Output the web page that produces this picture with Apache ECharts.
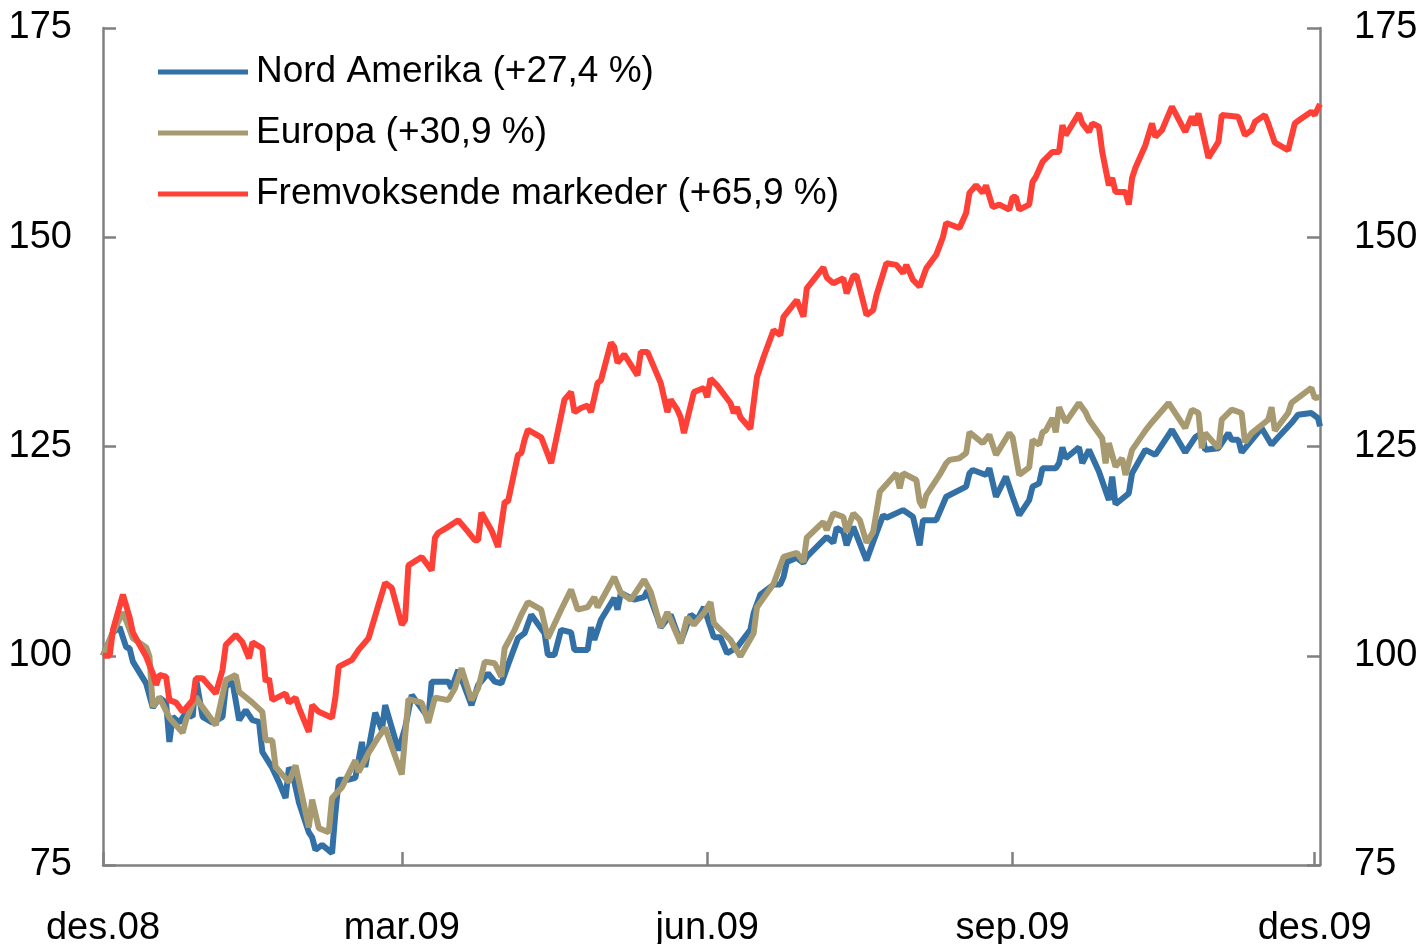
<!DOCTYPE html>
<html>
<head>
<meta charset="utf-8">
<script src="https://cdn.jsdelivr.net/npm/echarts@6/dist/echarts.min.js"></script>
<style>
  html, body { margin: 0; padding: 0; background: #fff; }
  #chart { width: 1420px; height: 944px; }
</style>
</head>
<body>
<div id="chart"></div>
<script>
// days since 1 Dec 2008, index = 100 at start
const tickDays = [0, 90, 182, 274, 365]
const tickLabels = ['des.08', 'mar.09', 'jun.09', 'sep.09', 'des.09']

const seriesNames = ['Nord Amerika (+27,4 %)', 'Europa (+30,9 %)', 'Fremvoksende markeder (+65,9 %)']

const naDays = [0,3,5,7,8,9,13,15,17,19,20,21,23,25,27,28,30,33,36,37,39,41,43,45,47,48,51,53,55,56,57,59,62,63,64,66,69,70,71,74,76,78,79,82,84,85,89,91,93,98,99,104,105,107,111,113,116,118,120,122,125,127,129,133,134,136,138,141,142,146,147,148,150,154,155,156,160,163,164,167,168,171,174,177,179,181,182,184,186,188,191,195,196,198,202,204,205,206,209,211,212,218,220,221,223,224,226,230,232,235,236,241,244,246,247,251,254,260,261,262,266,267,269,272,274,276,279,280,282,283,287,288,289,290,294,295,297,300,303,304,305,309,310,314,317,322,326,329,331,332,336,339,340,342,343,349,352,354,358,360,364,366,366.6]
const naVals = [100,102.8,103.4,101,100.9,99.3,96.7,93.8,95,94.4,89.7,92.7,92,93.2,92.7,97.3,92.7,92,92.7,96.3,96.9,92.3,93.5,92.3,92.1,88.5,86.6,84.9,83,86.6,86.1,82.5,78.9,78.3,76.8,77.4,76.4,81.2,85.2,85.2,85.4,89.7,86.7,93.2,91.1,94.1,88.7,91.4,95.3,92.6,96.9,96.9,96.1,98.3,94.1,96.5,97.9,96.9,96.7,98.9,102.1,102.7,104.9,102.7,100.1,100.1,103.1,102.8,100.7,100.7,103.4,101.9,104.3,106.9,105.5,107.5,106.7,107,107.8,104.6,103.4,104.9,101.6,104.9,104.3,105.8,104.6,102.2,102.2,100.3,101,103.1,105.1,107.3,108.5,108.5,109.4,111.2,111.7,111.1,111.8,114.2,113.5,115.3,114.8,113.2,115.4,111.4,113.6,116.8,116.5,117.4,116.6,113.2,116.2,116.2,119,120.2,121.8,122.2,121.6,122.4,119,121.4,119,116.8,118.6,120.2,120.6,122.4,122.4,123,124.9,123.6,124.9,123,124.6,122,118.6,121.4,118.1,119.4,121.8,124.6,124,127,124.3,126.1,126.6,124.6,124.8,126.6,125.8,125.8,124.3,127.2,125.2,126.1,127.8,128.8,129,128.4,127.4]

const euDays = [0,3,6,9,13,14,15,17,20,24,25,28,29,34,37,40,41,45,48,49,51,52,56,58,62,63,65,68,69,72,76,77,80,83,85,87,90,92,96,98,100,104,106,108,111,113,115,118,120,121,124,126,128,132,134,138,141,143,146,148,149,154,156,159,163,165,168,170,174,176,178,181,183,184,189,192,196,197,202,205,209,211,212,217,218,220,223,224,226,228,230,232,234,239,240,241,245,246,247,248,252,254,255,258,260,261,265,267,269,273,274,276,279,280,282,283,284,286,287,288,290,294,296,297,301,302,303,305,307,308,310,314,316,321,324,326,328,330,331,332,336,337,340,343,344,346,351,352,353,357,358,360,364,365,366.6]
const euVals = [100,102.8,105.2,102.1,101,99.9,93.9,95,92.6,90.8,92.3,95.1,94.4,91.7,97.1,97.7,95.7,94.4,93.3,89.9,89.9,86.7,84.9,86.9,79.5,82.8,79.4,78.9,83,84.3,87.5,86.1,88.4,90.3,91.4,89.1,85.8,94.8,94.4,92,95,94.7,96.1,98.5,94.7,96.1,99.3,99.1,97.5,100.9,103.1,104.9,106.4,105.5,102.1,105.5,107.9,105.5,105.8,107,105.8,109.4,107.5,106.7,109.1,107.6,103.4,105.2,101.5,104.6,103.7,105.1,106.4,103.9,101.9,99.9,102.7,105.8,108.6,111.8,112.3,111.2,114.1,116,115,117,116.6,114.8,117,116.2,113.5,114.8,119.6,121.8,120,121.8,121,118.4,117.7,119.2,121.6,123,123.4,123.6,124.2,126.7,125.4,126.4,124,126.6,126.1,121.6,122.5,125.8,125.2,126.7,126.9,128.4,126.7,129.7,127.9,130.2,129.1,128.2,126,123,125.4,122.6,123.6,121.6,124.6,126.9,127.9,130.2,128.4,127.2,129.4,129,124.8,126.6,124.8,128.2,129.4,129,125.5,126.6,128.2,129.7,126.9,129,130.2,130.8,132,130.8,130.9]

const emDays = [0,2,3,6,8,9,11,13,15,16,17,19,20,22,24,27,28,30,34,36,37,40,42,44,45,48,49,50,51,55,56,58,59,62,63,65,69,70,71,75,77,80,83,85,87,90,91,92,96,99,100,101,104,107,110,112,113,114,117,119,121,122,125,126,127,128,132,135,139,141,142,144,146,147,149,150,153,154,155,157,161,162,164,168,170,171,173,174,175,178,181,182,183,185,189,190,191,192,195,197,199,202,204,205,209,211,212,217,218,220,223,224,226,227,230,232,233,236,239,241,242,244,246,248,251,253,254,258,260,261,263,265,266,268,270,273,274,275,276,279,280,281,283,286,288,289,290,294,295,297,298,300,301,303,304,305,308,309,310,311,314,316,317,319,322,326,328,329,330,333,336,337,342,344,346,347,350,351,353,357,359,361,364,365,366.6]
const emVals = [100,100,103.1,107.3,104.6,102.8,101.3,99.9,97.9,96.5,97.7,97.5,94.7,94.4,93.3,94.7,97.3,97.3,95.5,98.3,101.3,102.5,101.6,99.7,101.6,100.9,96.9,97.3,94.7,95.5,94.4,95,93.8,90.9,94.1,93.3,92.6,95,98.7,99.5,100.7,102.1,106.1,108.7,108.1,103.7,104.3,110.8,111.8,110.2,114.1,114.7,115.4,116.2,114.8,113.8,113.8,117.1,115,113,118.4,118.4,124,124.2,125.8,127,126.1,123,130.6,131.5,129.1,129.6,129.9,129.1,132.6,132.9,137.4,136.9,135,136,133.5,136.3,136.3,132.6,129.1,130.6,129.4,128.5,126.6,131.5,132,130.9,133.1,132.3,130.2,129,129.7,128.5,127.1,133.3,135.7,138.9,138.3,140.5,142.5,140.5,143.9,146.4,145.2,144.5,145.1,143.3,145.4,145.4,140.7,141.3,143.1,146.9,146.7,145.7,146.7,144.9,144.1,146.3,147.9,150,151.7,151.1,152.9,155.3,156.2,155.3,156.2,153.6,153.9,153.3,154.8,154.8,153.3,153.9,156.6,157.2,159,160.2,160.2,163.4,162.2,164.8,163.6,162.6,163.6,163.2,160.2,156.2,157.1,155.4,155.4,153.9,157.1,158.3,161,163.6,162,162.8,165.6,162.6,164.4,163.4,164.8,159.5,161.4,164.6,164.4,162.2,162.8,163.8,164.6,163.6,161.3,160.4,163.6,164.2,165,164.6,165.9]

const FONT = 'Liberation Sans'
const AXIS_GREY = '#808080'
const LINE_W = 6

function pairs(days, vals) {
  return days.map((d, i) => [d, vals[i]])
}

const chart = echarts.init(document.getElementById('chart'))

const yAxisCommon = {
  type: 'value',
  min: 75,
  max: 175,
  interval: 25,
  axisLine: { show: true, lineStyle: { color: AXIS_GREY, width: 2.5 } },
  axisTick: { show: true, inside: true, length: 13, lineStyle: { color: AXIS_GREY, width: 2.5 } },
  splitLine: { show: false },
  axisLabel: { color: '#000', fontFamily: FONT, fontSize: 38, padding: [6, 0, 0, 0] }
}

let option = {
  animation: false,
  backgroundColor: '#fff',
  grid: { left: 103, right: 100, top: 28, bottom: 79, containLabel: false, outerBoundsMode: 'none' },
  legend: {
    orient: 'vertical',
    left: 158,
    top: 52,
    padding: 0,
    icon: 'rect',
    itemWidth: 90,
    itemHeight: 5,
    itemGap: 21,
    data: seriesNames,
    textStyle: { color: '#000', fontFamily: FONT, fontSize: 37, lineHeight: 40, padding: [0, 0, 0, 3] }
  },
  xAxis: {
    type: 'value',
    min: 0,
    max: 366.6,
    axisLine: { show: true, lineStyle: { color: AXIS_GREY, width: 2.5 } },
    axisTick: { show: true, inside: true, length: 13, customValues: tickDays, lineStyle: { color: AXIS_GREY, width: 2.5 } },
    splitLine: { show: false },
    axisLabel: {
      customValues: tickDays,
      margin: 45,
      color: '#000',
      fontFamily: FONT,
      fontSize: 38,
      formatter: function (v) {
        const i = tickDays.indexOf(v)
        return i >= 0 ? tickLabels[i] : ''
      }
    }
  },
  yAxis: [
    Object.assign({}, yAxisCommon, { position: 'left', axisLabel: Object.assign({}, yAxisCommon.axisLabel, { margin: 31 }) }),
    Object.assign({}, yAxisCommon, { position: 'right', axisLabel: Object.assign({}, yAxisCommon.axisLabel, { margin: 34 }) })
  ],
  series: [
    {
      name: seriesNames[0],
      type: 'line',
      data: pairs(naDays, naVals),
      symbol: 'none',
      color: '#3270A6',
      lineStyle: { width: LINE_W, color: '#3270A6' }
    },
    {
      name: seriesNames[1],
      type: 'line',
      data: pairs(euDays, euVals),
      symbol: 'none',
      color: '#A89A70',
      lineStyle: { width: LINE_W, color: '#A89A70' }
    },
    {
      name: seriesNames[2],
      type: 'line',
      data: pairs(emDays, emVals),
      symbol: 'none',
      color: '#FF4037',
      lineStyle: { width: LINE_W, color: '#FF4037' }
    }
  ]
}

option && chart.setOption(option)
</script>
</body>
</html>
